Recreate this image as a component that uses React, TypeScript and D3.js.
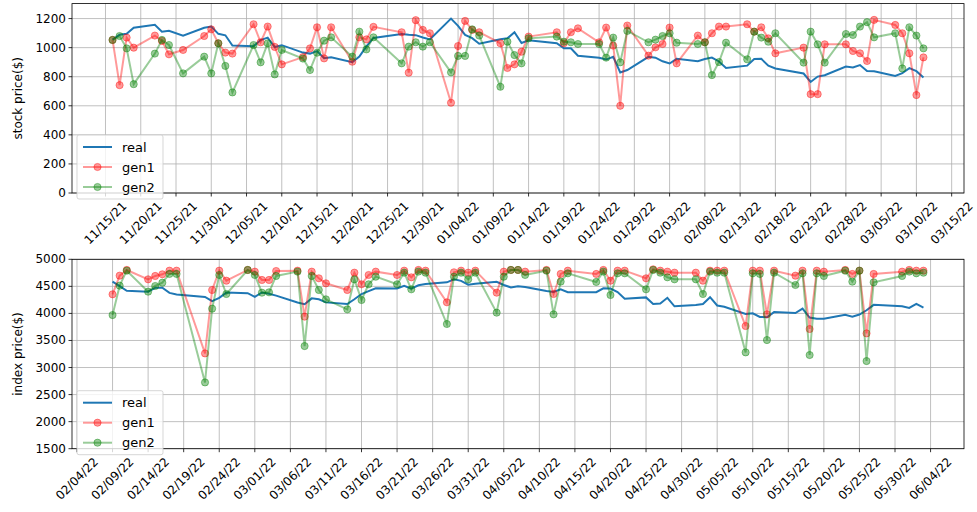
import React from 'react';
import * as d3 from 'd3';

// stock panel (trading days)
const stockDates = [
  '11/16/21', '11/17/21', '11/18/21', '11/19/21', '11/22/21', '11/23/21', '11/24/21', '11/26/21', '11/29/21', '11/30/21',
  '12/01/21', '12/02/21', '12/03/21', '12/06/21', '12/07/21', '12/08/21', '12/09/21', '12/10/21', '12/13/21', '12/14/21',
  '12/15/21', '12/16/21', '12/17/21', '12/20/21', '12/21/21', '12/22/21', '12/23/21', '12/27/21', '12/28/21', '12/29/21',
  '12/30/21', '12/31/21', '01/03/22', '01/04/22', '01/05/22', '01/06/22', '01/07/22', '01/10/22', '01/11/22', '01/12/22',
  '01/13/22', '01/14/22', '01/18/22', '01/19/22', '01/20/22', '01/21/22', '01/24/22', '01/25/22', '01/26/22', '01/27/22',
  '01/28/22', '01/31/22', '02/01/22', '02/02/22', '02/03/22', '02/04/22', '02/07/22', '02/08/22', '02/09/22', '02/10/22',
  '02/11/22', '02/14/22', '02/15/22', '02/16/22', '02/17/22', '02/18/22', '02/22/22', '02/23/22', '02/24/22', '02/25/22',
  '02/28/22', '03/01/22', '03/02/22', '03/03/22', '03/04/22', '03/07/22', '03/08/22', '03/09/22', '03/10/22', '03/11/22',
];
const stockReal = [
  1055, 1089, 1096, 1137, 1157, 1109, 1116, 1082, 1137, 1145,
  1095, 1085, 1015, 1009, 1052, 1069, 1004, 1017, 966, 959,
  976, 927, 933, 900, 939, 1009, 1067, 1094, 1088, 1086,
  1070, 1057, 1200, 1150, 1088, 1065, 1027, 1058, 1064, 1106,
  1032, 1050, 1031, 996, 996, 944, 930, 918, 937, 829,
  846, 937, 931, 906, 891, 923, 907, 922, 932, 905,
  860, 876, 922, 923, 876, 857, 822, 764, 801, 810,
  870, 864, 880, 839, 838, 805, 824, 859, 838, 795,
];
const stockGen1 = [
  1053, 742, 1069, 1000, 1083, 1046, 954, 984, 1080, 1126,
  1030, 966, 959, 1161, 1037, 1145, 1005, 885, 935, 995,
  1140, 926, 1140, 903, 1071, 1057, 1143, 1106, 828, 1189,
  1122, 1099, 621, 1011, 1184, 1122, 1106, 1030, 860, 885,
  972, 1076, 1106, 1030, 1106, 1133, 1037, 1138, 1014, 600,
  1152, 945, 1002, 1025, 1138, 892, 1083, 1037, 1099, 1145,
  1145, 1161, 1110, 1140, 1064, 961, 1000, 680, 680, 1023,
  1023, 977, 961, 908, 1191, 1156, 1099, 961, 674, 933,
];
const stockGen2 = [
  1053, 1080, 995, 749, 959, 1053, 1018, 823, 938, 823,
  1030, 874, 692, 1018, 899, 1030, 816, 984, 925, 846,
  965, 1048, 1071, 938, 1110, 988, 1071, 892, 1007, 1037,
  1007, 1037, 830, 943, 943, 1126, 1083, 731, 1041, 949,
  892, 1064, 1076, 1041, 1037, 1025, 1025, 931, 1069, 899,
  1115, 1037, 1055, 1080, 1099, 1034, 1025, 1037, 811, 901,
  1034, 920, 1110, 1069, 1041, 1099, 897, 1110, 1023, 897,
  1094, 1087, 1145, 1175, 1071, 1099, 857, 1140, 1083, 995,
];

// index panel (trading days)
const indexDates = [
  '02/09/22', '02/10/22', '02/11/22', '02/14/22', '02/15/22', '02/16/22', '02/17/22', '02/18/22', '02/22/22', '02/23/22',
  '02/24/22', '02/25/22', '02/28/22', '03/01/22', '03/02/22', '03/03/22', '03/04/22', '03/07/22', '03/08/22', '03/09/22',
  '03/10/22', '03/11/22', '03/14/22', '03/15/22', '03/16/22', '03/17/22', '03/18/22', '03/21/22', '03/22/22', '03/23/22',
  '03/24/22', '03/25/22', '03/28/22', '03/29/22', '03/30/22', '03/31/22', '04/01/22', '04/04/22', '04/05/22', '04/06/22',
  '04/07/22', '04/08/22', '04/11/22', '04/12/22', '04/13/22', '04/14/22', '04/18/22', '04/19/22', '04/20/22', '04/21/22',
  '04/22/22', '04/25/22', '04/26/22', '04/27/22', '04/28/22', '04/29/22', '05/02/22', '05/03/22', '05/04/22', '05/05/22',
  '05/06/22', '05/09/22', '05/10/22', '05/11/22', '05/12/22', '05/13/22', '05/16/22', '05/17/22', '05/18/22', '05/19/22',
  '05/20/22', '05/23/22', '05/24/22', '05/25/22', '05/26/22', '05/27/22', '05/31/22', '06/01/22', '06/02/22', '06/03/22',
];
const indexReal = [
  4587, 4504, 4419, 4401, 4472, 4475, 4380, 4349, 4305, 4226,
  4288, 4385, 4374, 4306, 4387, 4363, 4329, 4201, 4171, 4278,
  4260, 4204, 4173, 4262, 4358, 4412, 4463, 4461, 4512, 4456,
  4520, 4543, 4575, 4632, 4602, 4530, 4546, 4583, 4525, 4481,
  4500, 4488, 4413, 4397, 4447, 4392, 4392, 4463, 4459, 4394,
  4272, 4296, 4175, 4183, 4288, 4132, 4155, 4175, 4300, 4147,
  4123, 3991, 4001, 3935, 3930, 4024, 4008, 4088, 3924, 3901,
  3901, 3974, 3941, 3979, 4058, 4158, 4132, 4101, 4176, 4109,
];
const indexGen1 = [
  4353, 4698, 4803, 4630, 4692, 4723, 4790, 4790, 3261, 4433,
  4790, 4605, 4803, 4772, 4618, 4618, 4784, 4790, 3940, 4772,
  4649, 4556, 4433, 4753, 4538, 4710, 4772, 4710, 4790, 4667,
  4803, 4790, 4205, 4760, 4790, 4753, 4790, 4383, 4772, 4803,
  4803, 4772, 4803, 4359, 4729, 4790, 4729, 4803, 4605, 4790,
  4790, 4649, 4815, 4790, 4772, 4753, 4753, 4605, 4790, 4790,
  4790, 3767, 4790, 4790, 3983, 4790, 4698, 4790, 3712, 4790,
  4772, 4803, 4729, 4790, 3631, 4729, 4772, 4803, 4790, 4790,
];
const indexGen2 = [
  3970, 4513, 4790, 4402, 4507, 4568, 4729, 4729, 2725, 4088,
  4710, 4359, 4803, 4710, 4383, 4390, 4692, 4772, 3397, 4692,
  4433, 4260, 4075, 4630, 4248, 4538, 4679, 4538, 4753, 4445,
  4772, 4753, 3804, 4679, 4753, 4630, 4753, 4014, 4679, 4803,
  4803, 4710, 4790, 3983, 4587, 4741, 4581, 4772, 4340, 4741,
  4741, 4445, 4803, 4753, 4667, 4630, 4630, 4359, 4772, 4753,
  4753, 3280, 4741, 4729, 3508, 4753, 4525, 4741, 3231, 4741,
  4692, 4790, 4587, 4790, 3120, 4575, 4692, 4772, 4741, 4753,
];

const stockYTicks = [0, 200, 400, 600, 800, 1000, 1200];
const indexYTicks = [1500, 2000, 2500, 3000, 3500, 4000, 4500, 5000];

const W = 977;
const H = 512;
const FONT = 'DejaVu Sans, sans-serif';
const parse = d3.timeParse('%m/%d/%y');
const fmt = d3.timeFormat('%m/%d/%y');

function Panel(props) {
  const { dates, real, gen1, gen2, yDomain, yTicks, top, bottom, firstTick, yLabel } = props;
  const left = 72;
  const right = 964;
  const xs = dates.map(parse);
  const [t0, t1] = d3.extent(xs);
  const pad = (+t1 - +t0) * 0.05;
  const x = d3.scaleTime().domain([new Date(+t0 - pad), new Date(+t1 + pad)]).range([left, right]);
  const y = d3.scaleLinear().domain(yDomain).range([bottom, top]);
  const xTicks = d3.timeDay.range(parse(firstTick), x.domain()[1], 5);

  const line = d3.line().x((_, i) => x(xs[i])).y(d => y(d));

  const series = [
    { name: 'gen1', vals: gen1, color: '#ff0000' },
    { name: 'gen2', vals: gen2, color: '#008000' },
  ];

  const legY = bottom - 58;
  return (
    <g>
      {/* grid */}
      {xTicks.map((t, i) => (
        <line key={'gx' + i} x1={x(t)} x2={x(t)} y1={top} y2={bottom} stroke="#b0b0b0" strokeWidth={0.8} />
      ))}
      {yTicks.map((v, i) => (
        <line key={'gy' + i} x1={left} x2={right} y1={y(v)} y2={y(v)} stroke="#b0b0b0" strokeWidth={0.8} />
      ))}

      <path d={line(real)} fill="none" stroke="#1f77b4" strokeWidth={2} />
      {series.map(s => (
        <g key={s.name}>
          <path d={line(s.vals)} fill="none" stroke={s.color} strokeOpacity={0.4} strokeWidth={2} />
          {s.vals.map((v, i) => (
            <circle key={i} cx={x(xs[i])} cy={y(v)} r={3.6} fill={s.color} fillOpacity={0.4}
              stroke={s.color} strokeOpacity={0.4} strokeWidth={1} />
          ))}
        </g>
      ))}

      {/* frame */}
      <rect x={left} y={top} width={right - left} height={bottom - top} fill="none" stroke="#000" strokeWidth={0.8} />

      {/* x axis */}
      {xTicks.map((t, i) => (
        <g key={'xt' + i}>
          <line x1={x(t)} x2={x(t)} y1={bottom} y2={bottom + 3.5} stroke="#000" strokeWidth={0.8} />
          <text transform={`translate(${x(t)},${bottom + 30}) rotate(-45)`} textAnchor="middle"
            dominantBaseline="central" fontSize={12} fontFamily={FONT}>{fmt(t)}</text>
        </g>
      ))}
      {/* y axis */}
      {yTicks.map((v, i) => (
        <g key={'yt' + i}>
          <line x1={left - 3.5} x2={left} y1={y(v)} y2={y(v)} stroke="#000" strokeWidth={0.8} />
          <text x={left - 6} y={y(v)} textAnchor="end" dominantBaseline="central" fontSize={12} fontFamily={FONT}>{v}</text>
        </g>
      ))}
      <text transform={`translate(18,${(top + bottom) / 2}) rotate(-90)`} textAnchor="middle"
        dominantBaseline="central" fontSize={12} fontFamily={FONT}>{yLabel}</text>

      {/* legend */}
      <rect x={77} y={legY} width={86} height={64} rx={2} fill="#fff" fillOpacity={0.8} stroke="#cccccc" strokeOpacity={0.8} />
      <line x1={83} x2={112} y1={legY + 12} y2={legY + 12} stroke="#1f77b4" strokeWidth={2} />
      <text x={122} y={legY + 12} dominantBaseline="central" fontSize={13} fontFamily={FONT}>real</text>
      {series.map((s, k) => (
        <g key={'lg' + s.name}>
          <line x1={83} x2={112} y1={legY + 32 + 20 * k} y2={legY + 32 + 20 * k} stroke={s.color} strokeOpacity={0.4} strokeWidth={2} />
          <circle cx={97.5} cy={legY + 32 + 20 * k} r={3.6} fill={s.color} fillOpacity={0.4} stroke={s.color} strokeOpacity={0.4} />
          <text x={122} y={legY + 32 + 20 * k} dominantBaseline="central" fontSize={13} fontFamily={FONT}>{s.name}</text>
        </g>
      ))}
    </g>
  );
}

export default function App() {
  return (
    <svg width={W} height={H} style={{ position: 'absolute', left: 0, top: 0, background: '#fff' }}>
      <Panel dates={stockDates} real={stockReal} gen1={stockGen1} gen2={stockGen2}
        yDomain={[0, 1303]} yTicks={stockYTicks} top={3.6} bottom={193} firstTick="11/15/21" yLabel="stock price($)" />
      <Panel dates={indexDates} real={indexReal} gen1={indexGen1} gen2={indexGen2}
        yDomain={[1500, 5000]} yTicks={indexYTicks} top={259.3} bottom={448.7} firstTick="02/04/22" yLabel="index price($)" />
    </svg>
  );
}
